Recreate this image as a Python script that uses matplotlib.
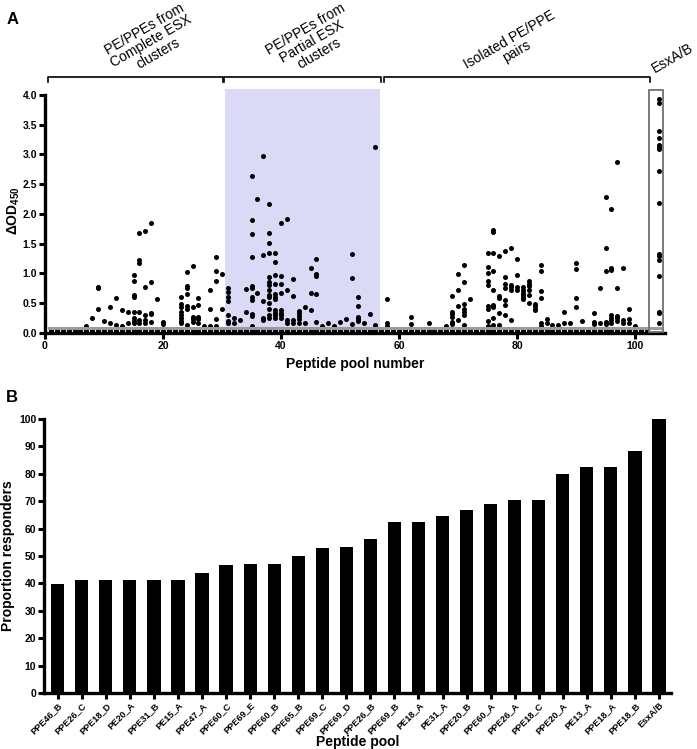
import numpy as np
import matplotlib.pyplot as plt
from matplotlib.patches import Rectangle

plt.rcParams['font.family'] = ['Liberation Sans Narrow', 'Liberation Sans', 'DejaVu Sans']
plt.rcParams['mathtext.fontset'] = 'custom'
plt.rcParams['mathtext.rm'] = 'Liberation Sans'
plt.rcParams['mathtext.bf'] = 'Liberation Sans:bold'

# ---- panel A: responses above background, per peptide pool ----
complete_esx = {
    7: [0.12], 8: [0.26], 9: [0.77, 0.75, 0.40], 10: [0.21], 11: [0.43, 0.16],
    12: [0.59, 0.13], 13: [0.39, 0.12], 14: [0.35, 0.16],
    15: [0.97, 0.87, 0.64, 0.61, 0.35, 0.25, 0.21, 0.16],
    16: [1.68, 1.22, 1.17, 0.36, 0.22, 0.17],
    17: [1.71, 0.78, 0.30, 0.22, 0.16],
    18: [1.84, 0.85, 0.34, 0.32, 0.19],
    19: [0.57], 20: [0.19, 0.15],
    23: [0.60, 0.48, 0.43, 0.36, 0.30, 0.25, 0.21, 0.16],
    24: [1.03, 0.79, 0.75, 0.66, 0.45, 0.40, 0.13],
    25: [1.13, 0.43, 0.27, 0.23, 0.19],
    26: [0.59, 0.47, 0.27, 0.23, 0.17],
    27: [0.12], 28: [0.72, 0.40, 0.12],
    29: [1.27, 1.04, 0.87, 0.23, 0.12], 30: [0.99, 0.40],
}
partial_esx = {
    31: [0.75, 0.69, 0.61, 0.54, 0.30, 0.21, 0.16],
    32: [0.25, 0.16], 33: [0.22], 34: [0.74, 0.35],
    35: [2.64, 1.90, 1.66, 1.27, 0.79, 0.76, 0.60, 0.55, 0.32, 0.29, 0.12],
    36: [2.26, 0.67],
    37: [2.97, 1.31, 0.54, 0.26, 0.22],
    38: [2.17, 1.68, 1.52, 1.35, 0.94, 0.86, 0.81, 0.73, 0.64, 0.60, 0.50, 0.40, 0.30, 0.25],
    39: [1.34, 1.19, 0.97, 0.82, 0.66, 0.61, 0.57, 0.39, 0.34, 0.30, 0.26],
    40: [1.84, 0.95, 0.82, 0.67, 0.39, 0.34, 0.30, 0.26],
    41: [1.92, 0.73, 0.22, 0.16],
    42: [0.91, 0.62, 0.22, 0.16],
    43: [0.37, 0.33, 0.29, 0.23, 0.17],
    44: [0.43, 0.17],
    45: [1.10, 0.68, 0.38],
    46: [1.24, 0.99, 0.95, 0.65, 0.18],
    47: [0.12], 48: [0.16], 49: [0.12], 50: [0.19], 51: [0.23],
    52: [1.33, 0.93, 0.15],
    53: [0.60, 0.45, 0.27, 0.23, 0.21],
    54: [0.16], 55: [0.32], 56: [3.13, 0.13],
}
isolated_pairs = {
    58: [0.57, 0.16, 0.12], 62: [0.27, 0.15], 65: [0.16], 68: [0.12],
    69: [0.62, 0.36, 0.32, 0.27, 0.19, 0.15],
    70: [0.99, 0.72, 0.45, 0.22],
    71: [1.14, 0.86, 0.49, 0.41, 0.36, 0.30, 0.13],
    72: [0.57],
    75: [1.34, 1.11, 1.01, 0.87, 0.81, 0.45, 0.41, 0.21, 0.12],
    76: [1.73, 1.69, 1.34, 1.05, 0.73, 0.47, 0.44, 0.25, 0.13],
    77: [1.29, 0.63, 0.58, 0.33, 0.13],
    78: [1.37, 0.94, 0.82, 0.75, 0.55, 0.47, 0.30],
    79: [1.42, 0.81, 0.77, 0.72, 0.22],
    80: [1.25, 0.97, 0.77, 0.73],
    81: [0.77, 0.73, 0.68, 0.64, 0.60, 0.57],
    82: [0.87, 0.83, 0.79, 0.72, 0.64, 0.50],
    83: [0.49, 0.45, 0.41, 0.38],
    84: [1.14, 1.04, 0.71, 0.58, 0.17, 0.12],
    85: [0.23, 0.17], 86: [0.13], 87: [0.13], 88: [0.36, 0.17], 89: [0.17],
    90: [1.17, 1.07, 0.59, 0.44], 91: [0.21],
    93: [0.33, 0.19, 0.15], 94: [0.75, 0.17],
    95: [2.29, 1.43, 1.04, 0.19, 0.15],
    96: [2.08, 1.09, 1.06, 0.30, 0.26, 0.22, 0.17],
    97: [2.88, 0.75, 0.29, 0.25, 0.21],
    98: [1.09, 0.22, 0.17], 99: [0.41, 0.23, 0.17], 100: [0.12],
}
esxab_pool = 104
esxab_od = [3.94, 3.87, 3.40, 3.28, 3.16, 3.13, 3.09, 2.73, 2.19,
            1.33, 1.29, 1.23, 0.96, 0.36, 0.33, 0.17]
n_pools = 102
nonresponder_od = [0.02, 0.05]
cutoff_od = 0.09

group_labels = ['PE/PPEs from\nComplete ESX\nclusters',
                'PE/PPEs from\nPartial ESX\nclusters',
                'Isolated PE/PPE\npairs',
                'EsxA/B']

# ---- panel B ----
pool_names = ['PPE46_B', 'PPE26_C', 'PPE18_D', 'PE20_A', 'PPE31_B', 'PE15_A',
              'PPE47_A', 'PPE60_C', 'PPE69_E', 'PPE60_B', 'PPE65_B', 'PPE69_C',
              'PPE69_D', 'PPE26_B', 'PPE69_B', 'PE18_A', 'PE31_A', 'PPE20_B',
              'PPE60_A', 'PPE26_A', 'PPE18_C', 'PPE20_A', 'PE13_A', 'PPE18_A',
              'PPE18_B', 'EsxA/B']
proportion = [39.8, 41.2, 41.2, 41.2, 41.2, 41.2, 43.7, 46.7, 47.1, 47.1, 50.0,
              52.9, 53.3, 56.3, 62.5, 62.5, 64.7, 66.7, 68.8, 70.6, 70.6, 80.0,
              82.4, 82.4, 88.2, 100.0]

fig = plt.figure(figsize=(6.97, 7.49), dpi=100)

# ---------------- A ----------------
ax = fig.add_axes([45 / 697, 1 - 333 / 749, 619.5 / 697, 244 / 749])
ax.axvspan(30.5, 56.8, color='#dadaf7', lw=0, zorder=0)

xs, ys = [], []
for group in (complete_esx, partial_esx, isolated_pairs):
    for pool, vals in group.items():
        xs += [pool] * len(vals)
        ys += vals
for pool in range(1, n_pools + 1):
    xs += [pool] * len(nonresponder_od)
    ys += nonresponder_od
xs += [esxab_pool] * len(esxab_od)
ys += esxab_od
ax.scatter(xs, ys, s=13, c='black', linewidths=0, zorder=3, clip_on=False)

ax.plot([0.7, 104.3], [cutoff_od, cutoff_od], color='#9a9a9a', lw=2.2, zorder=4)
ax.add_patch(Rectangle((102.4, 0.02), 2.4, 4.06, fill=False, ec='#707070',
                       lw=1.3, zorder=4, clip_on=False))

ax.set_xlim(0, 105)
ax.set_ylim(0, 4.1)
ax.spines['top'].set_visible(False)
ax.spines['right'].set_visible(False)
ax.spines['left'].set_bounds(0, 4)
for s in ('left', 'bottom'):
    ax.spines[s].set_linewidth(2.4)
ax.set_xticks([0, 20, 40, 60, 80, 100])
ax.set_yticks(np.arange(0, 4.01, 0.5))
ax.yaxis.set_major_formatter(plt.FormatStrFormatter('%.1f'))
ax.tick_params(length=4, width=2.2, labelsize=7.5, pad=1.5)
for lab in ax.get_xticklabels() + ax.get_yticklabels():
    lab.set_fontweight('bold')
ax.set_ylabel(r'$\mathbf{\Delta OD_{450}}$', fontsize=10)
ax.yaxis.set_label_coords(-0.037, 0.5)
ax.set_xlabel('Peptide pool number', fontsize=10, fontweight='bold')
ax.xaxis.set_label_coords(0.5, -0.1)

# brackets over the pool groups
for x0, x1 in [(0.5, 30.1), (30.4, 57.0), (57.5, 102.5)]:
    ax.plot([x0, x0, x1, x1], [4.22, 4.30, 4.30, 4.22], color='black', lw=1.2,
            clip_on=False)
for txt, (tx, ty) in zip(group_labels, [(18.0, 4.9), (45.3, 4.9), (79.3, 4.83), (106.3, 4.62)]):
    ax.text(tx, ty, txt, rotation=30, ha='center', va='center', fontsize=10,
            multialignment='center', rotation_mode='anchor', linespacing=1.0)

fig.text(13 / 697, 1 - 20 / 749, 'A', fontsize=12, fontweight='bold',
         ha='center', va='center')

# ---------------- B ----------------
ax2 = fig.add_axes([44 / 697, 1 - 693 / 749, 627 / 697, 274 / 749])
idx = np.arange(len(pool_names))
ax2.bar(idx, proportion, width=0.55, color='black')
ax2.set_xlim(-0.57, 25.5)
ax2.set_ylim(0, 100)
ax2.spines['top'].set_visible(False)
ax2.spines['right'].set_visible(False)
for s in ('left', 'bottom'):
    ax2.spines[s].set_linewidth(2.4)
ax2.set_yticks(np.arange(0, 101, 10))
ax2.set_xticks(idx)
ax2.set_xticklabels(pool_names, rotation=45, ha='right', rotation_mode='anchor')
ax2.tick_params(length=4, width=2.2, labelsize=7.5, pad=1.5)
ax2.tick_params(axis='x', labelsize=6.6, pad=1.5)
for lab in ax2.get_xticklabels() + ax2.get_yticklabels():
    lab.set_fontweight('bold')
ax2.set_ylabel('Proportion responders', fontsize=10, fontweight='bold')
ax2.yaxis.set_label_coords(-0.046, 0.5)
ax2.set_xlabel('Peptide pool', fontsize=10, fontweight='bold')
ax2.xaxis.set_label_coords(0.5, -0.152)

fig.text(12 / 697, 1 - 397 / 749, 'B', fontsize=12, fontweight='bold',
         ha='center', va='center')

fig.savefig('out.png', dpi=100)
